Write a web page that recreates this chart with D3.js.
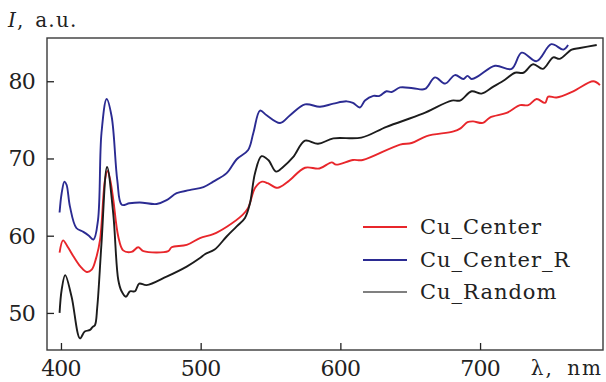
<!DOCTYPE html>
<html>
<head>
<meta charset="utf-8">
<script src="https://cdn.jsdelivr.net/npm/d3@7"></script>
<style>
  html, body { margin: 0; padding: 0; background: #fff; }
  svg text { font-family: "DejaVu Serif", "Liberation Serif", serif; fill: #222; }
</style>
</head>
<body>
<svg id="chart" width="606" height="382"></svg>
<script>
// Spectra: wavelength (nm) and intensity (a.u.) for each sample
const centerWl = [399,401.5,405,409,414,418.5,422,425,428,431.5,433.4,435.5,437.5,441,444.5,450.5,455.3,459,476.8,479.2,490,499.5,509,519,530,534,539,544,548,555,562.5,574.7,585,593.8,597,609,616,642.7,651,661.8,681,686,691,695,702,707,719,728.6,734.5,740.5,746.5,748.8,754.8,766.7,781,785.8];
const centerI  = [57.8,59.4,58.5,57.3,56.0,55.3,55.6,57.0,59.5,67.2,68.4,67.0,64.6,59.9,58.1,57.9,58.5,58.0,58.0,58.5,58.8,59.7,60.2,61.2,62.7,63.6,66.2,67.0,66.8,66.2,67.0,68.8,68.7,69.5,69.2,69.8,69.8,71.8,72.0,72.9,73.5,73.9,74.7,74.8,74.6,75.3,75.9,76.9,76.9,77.7,77.2,78.0,77.9,78.7,80.0,79.5];

const centerRWl = [399,400.5,402.5,404,406.4,411,416,420,423.3,426.5,429,432.7,436.3,440.3,443.5,449,456.5,468.5,475.6,482.8,492,502,509,518.6,525.8,534,537.7,542.5,547.2,556.8,564,574.7,585.4,595,604.5,609,614,617.6,623.6,628,633,636.7,642.7,652,660.6,667.7,675,682,688,691,694,699,710.7,722.6,729.8,740.5,751,759.6,763];
const centerRI  = [63.0,65.5,67.0,66.6,63.8,61.0,60.5,60.0,59.5,62.0,73.3,77.7,75.4,67.2,64.0,64.2,64.3,64.1,64.6,65.5,65.9,66.3,67.0,68.1,69.9,71.1,73.3,76.2,75.6,74.6,75.6,77.0,76.7,77.1,77.4,77.2,76.6,77.5,78.1,78.1,78.7,78.6,79.2,79.1,79.0,80.5,79.7,80.8,80.3,80.7,80.3,80.7,82.0,81.6,83.7,82.6,84.8,84.1,84.7];

const randomWl = [399,400.5,403,407.6,413.6,417,420.8,422.7,424.3,426,429,433,437.4,441,443.4,446.5,449.4,453,456,461.3,475.6,490,499.5,503,510,518.6,525.8,531.7,535.3,538.9,543.6,548.4,554,559,566.3,574.7,584,595,615,633,659,679.7,685.6,694,701,709.5,717.8,725,731,738,745,752.4,757,765.6,771.5,783.5];
const randomI  = [50.0,53.0,54.9,52.1,46.7,47.6,47.8,48.2,48.4,50.8,59.0,68.9,62.9,54.3,52.8,52.1,52.8,52.8,53.8,53.6,54.7,56.0,57.1,57.6,58.2,59.9,61.2,62.3,64.2,68.1,70.3,69.8,68.3,68.9,70.2,72.3,71.9,72.6,72.7,74.1,75.8,77.5,77.5,78.7,78.4,79.3,80.2,81.1,81.1,82.2,81.6,83.1,82.9,84.1,84.3,84.7];

const seriesNames = ["Cu_Center", "Cu_Center_R", "Cu_Random"];
const xTicks = [400, 500, 600, 700];
const yTicks = [50, 60, 70, 80];

const lineColors   = ["#e8262b", "#2b2b92", "#1c1c1c"];
const legendColors = ["#e8262b", "#2b2b92", "#808080"];

const svg = d3.select("#chart");
const plot = { left: 47, top: 38, right: 603, bottom: 350 };

const x = d3.scaleLinear().domain([390, 788]).range([plot.left, plot.right]);
const y = d3.scaleLinear().domain([45.2, 85.6]).range([plot.bottom, plot.top]);

const series = [
  centerWl.map((w, i) => [w, centerI[i]]),
  centerRWl.map((w, i) => [w, centerRI[i]]),
  randomWl.map((w, i) => [w, randomI[i]])
];

// Curves (drawn under the frame)
const line = d3.line()
  .x(d => x(d[0]))
  .y(d => y(d[1]))
  .curve(d3.curveCatmullRom.alpha(0.5));

[0, 2, 1].forEach(k => {
  svg.append("path")
    .attr("d", line(series[k]))
    .attr("fill", "none")
    .attr("stroke", lineColors[k])
    .attr("stroke-width", 1.9)
    .attr("stroke-linejoin", "round");
});

// Frame
svg.append("rect")
  .attr("x", plot.left).attr("y", plot.top)
  .attr("width", plot.right - plot.left).attr("height", plot.bottom - plot.top)
  .attr("fill", "none").attr("stroke", "#3a3a3a").attr("stroke-width", 1.4);

// Bottom axis, ticks pointing into the plot
const xAxis = svg.append("g")
  .attr("transform", `translate(0,${plot.bottom})`)
  .call(d3.axisTop(x).tickValues(xTicks).tickSize(7).tickFormat(""));
xAxis.select(".domain").remove();
xAxis.selectAll("line").attr("stroke", "#222").attr("stroke-width", 1.3);

svg.append("g").selectAll("text")
  .data(xTicks).join("text")
  .attr("x", d => x(d)).attr("y", 376)
  .attr("text-anchor", "middle")
  .attr("font-size", 22)
  .attr("letter-spacing", -0.8)
  .text(d => d);

// Left axis, ticks pointing into the plot
const yAxis = svg.append("g")
  .attr("transform", `translate(${plot.left},0)`)
  .call(d3.axisRight(y).tickValues(yTicks).tickSize(7).tickFormat(""));
yAxis.select(".domain").remove();
yAxis.selectAll("line").attr("stroke", "#222").attr("stroke-width", 1.3);

svg.append("g").selectAll("text")
  .data(yTicks).join("text")
  .attr("x", 35).attr("y", d => y(d) + 8)
  .attr("text-anchor", "end")
  .attr("font-size", 22)
  .attr("letter-spacing", -0.8)
  .text(d => d);

// Axis titles
const yTitle = svg.append("text")
  .attr("x", 8).attr("y", 27)
  .attr("font-size", 20)
  .attr("letter-spacing", 1.2)
  .attr("word-spacing", 3);
yTitle.append("tspan").attr("font-style", "italic").text("I");
yTitle.append("tspan").text(", a.u.");

svg.append("text")
  .attr("x", 603).attr("y", 375)
  .attr("text-anchor", "end")
  .attr("font-size", 20)
  .attr("letter-spacing", 2)
  .attr("word-spacing", 5)
  .text("λ, nm");

// Legend
const legendY = [227, 260, 292];
const legend = svg.append("g");
seriesNames.forEach((name, i) => {
  legend.append("line")
    .attr("x1", 363).attr("x2", 407)
    .attr("y1", legendY[i]).attr("y2", legendY[i])
    .attr("stroke", legendColors[i]).attr("stroke-width", 1.8);
  legend.append("text")
    .attr("x", 420).attr("y", legendY[i] + 7)
    .attr("font-size", 21)
    .attr("letter-spacing", 1)
    .text(name);
});
</script>
</body>
</html>
